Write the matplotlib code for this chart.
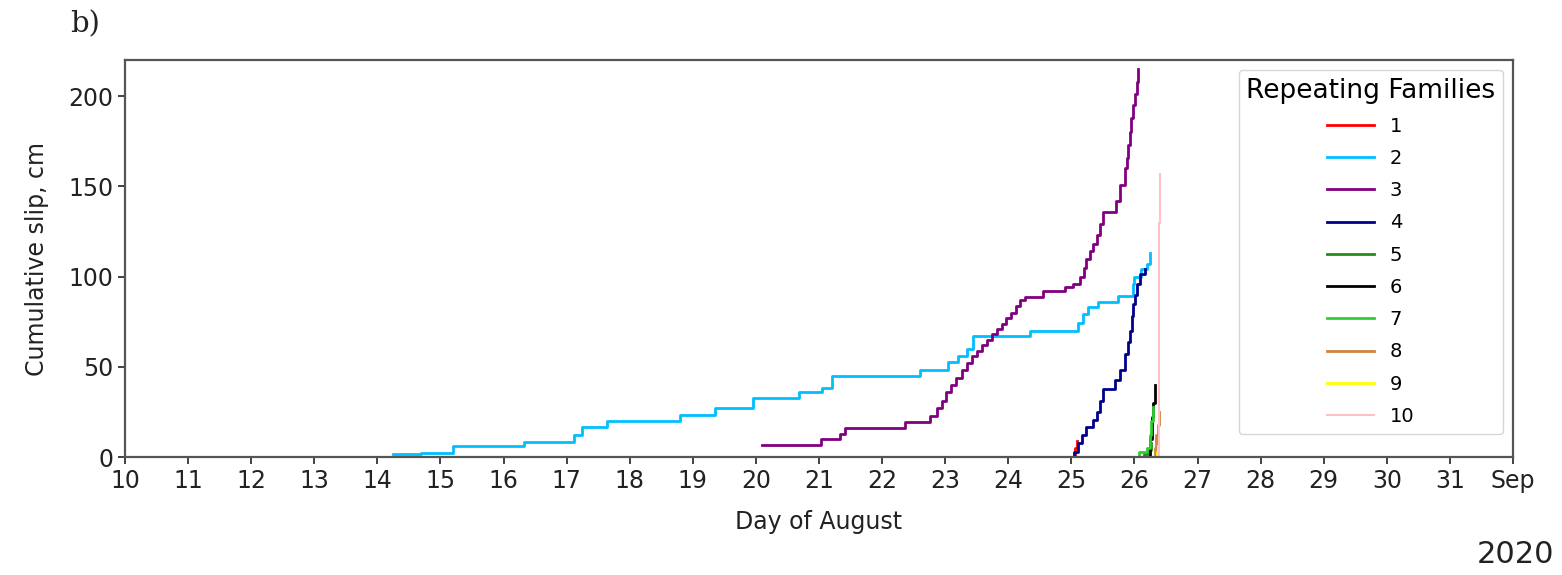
import numpy as np
import pandas as pd
import matplotlib
matplotlib.use('Agg')
import matplotlib.pyplot as plt
import matplotlib.dates as mdates

# event times (day of August 2020) and cumulative slip (cm) for each repeating family
fam1_day = [25.03, 25.06, 25.09]
fam1_slip = [0, 5, 9]

fam2_day = [14.25, 14.7, 15.2, 16.32, 17.12, 17.24, 17.64, 18.8, 19.36, 19.95, 20.68, 21.05,
            21.2, 22.6, 23.04, 23.2, 23.34, 23.44, 24.34, 25.1, 25.18, 25.26, 25.42, 25.74,
            25.97, 26.0, 26.1, 26.2, 26.25]
fam2_slip = [1.5, 2.5, 6, 8.5, 12, 16.5, 20, 23.5, 27, 32.5, 36, 38.5,
             44.8, 48, 52.5, 56, 60, 67, 70, 74.5, 79.5, 83, 86, 89.5,
             96, 100, 104, 107, 113]

fam3_day = [20.1, 21.03, 21.33, 21.41, 22.36, 22.76, 22.87, 22.95, 23.02, 23.1, 23.18, 23.26,
            23.34, 23.42, 23.5, 23.58, 23.66, 23.74, 23.82, 23.9, 23.97, 24.05, 24.12, 24.19,
            24.26, 24.55, 24.9, 25.03, 25.13, 25.2, 25.24, 25.3, 25.35, 25.4, 25.45, 25.5,
            25.71, 25.77, 25.85, 25.88, 25.9, 25.93, 25.95, 25.98, 26.01, 26.04, 26.06]
fam3_slip = [6.5, 10, 13, 16, 19.3, 23, 27, 31, 36, 40, 44, 48,
             52, 56, 59, 62, 65, 68, 71, 74, 77, 80, 84, 87,
             89, 92, 94, 96, 100, 105, 110, 114, 118, 123, 129, 136,
             142, 151, 160, 166, 173, 180, 188, 195, 201, 208, 215]

fam4_day = [25.0, 25.05, 25.11, 25.17, 25.24, 25.35, 25.4, 25.45, 25.5, 25.69, 25.77, 25.85,
            25.9, 25.93, 25.96, 25.98, 26.01, 26.04, 26.09, 26.16]
fam4_slip = [0, 3, 7.6, 12, 16.8, 20.4, 25, 31, 38, 43, 48, 57,
             64, 70, 78, 85, 90, 96, 101.5, 104]

fam5_day = [26.08, 26.15, 26.22, 26.26]
fam5_slip = [0, 2, 4, 8]

fam6_day = [26.2, 26.25, 26.28, 26.3, 26.32]
fam6_slip = [0, 10, 22, 30, 40]

fam7_day = [26.06, 26.08, 26.2, 26.25, 26.27, 26.29]
fam7_slip = [0, 3, 5, 12, 20, 28]

fam8_day = [26.3, 26.33, 26.35, 26.37, 26.39]
fam8_slip = [0, 5, 12, 18, 25]

fam9_day = [26.33, 26.36, 26.38]
fam9_slip = [0, 3, 6]

fam10_day = [26.38, 26.385, 26.39, 26.395, 26.4]
fam10_slip = [0, 40, 90, 130, 157]

families = ['1', '2', '3', '4', '5', '6', '7', '8', '9', '10']
colors = ['red', 'deepskyblue', 'purple', 'darkblue', 'forestgreen', 'black',
          'limegreen', 'peru', 'yellow', 'pink']
days = [fam1_day, fam2_day, fam3_day, fam4_day, fam5_day, fam6_day, fam7_day,
        fam8_day, fam9_day, fam10_day]
slips = [fam1_slip, fam2_slip, fam3_slip, fam4_slip, fam5_slip, fam6_slip, fam7_slip,
         fam8_slip, fam9_slip, fam10_slip]


def to_dates(d):
    return pd.Timestamp('2020-08-01') + pd.to_timedelta(np.array(d) - 1, unit='D')


fig = plt.figure(figsize=(15.62, 5.75), dpi=100)
ax = fig.add_axes([0.080, 0.205, 0.8886, 0.6905])

for i in range(len(families)):
    lw = 1.5 if families[i] == '10' else 2.0
    ax.plot(to_dates(days[i]), slips[i], drawstyle='steps-post', color=colors[i],
            lw=lw, label=families[i])

ax.set_xlim(pd.Timestamp('2020-08-10'), pd.Timestamp('2020-09-01'))
ax.set_ylim(0, 220)
ax.set_yticks([0, 50, 100, 150, 200])

loc = mdates.DayLocator()
fmt = mdates.ConciseDateFormatter(loc, show_offset=False)
ax.xaxis.set_major_locator(loc)
ax.xaxis.set_major_formatter(fmt)

ax.tick_params(labelsize=17, colors='#222222', length=5, width=1.2)
for s in ax.spines.values():
    s.set_color('#555555')
    s.set_linewidth(1.6)

ax.set_xlabel('Day of August', fontsize=17, color='#222222', labelpad=12)
ax.set_ylabel('Cumulative slip, cm', fontsize=17, color='#222222', labelpad=14)

leg = ax.legend(loc='upper right', title='Repeating Families', fontsize=14,
                title_fontsize=19, handlelength=2.4, borderaxespad=0.5,
                labelspacing=0.68)

fig.text(0.045, 0.957, 'b)', fontsize=21, family='DejaVu Serif', ha='left', va='center',
         color='#222222')
fig.text(0.995, 0.035, '2020', fontsize=22, ha='right', va='center', color='#222222')

fig.savefig('out.png', dpi=100)
